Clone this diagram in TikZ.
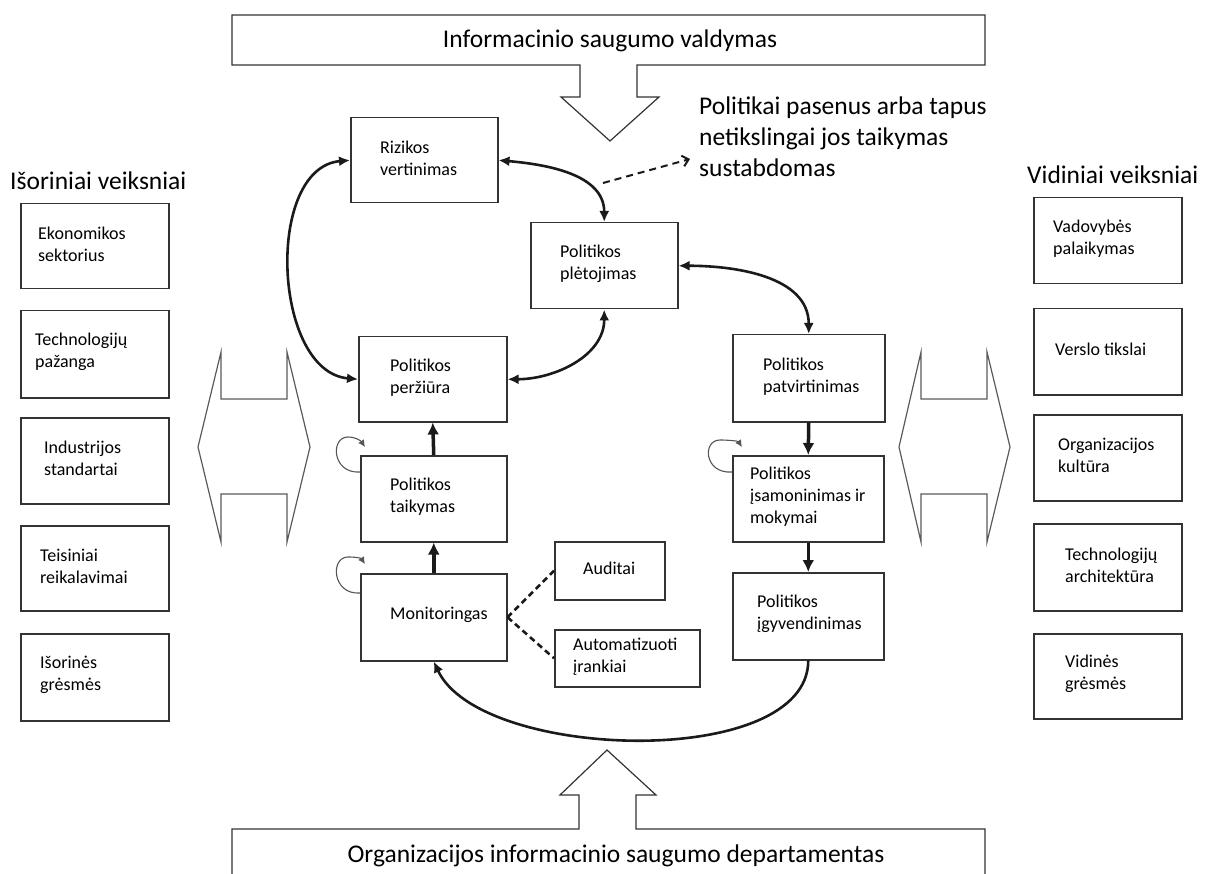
\documentclass[tikz,border=0pt]{standalone}
\usepackage{fontspec}
\setmainfont{Carlito}
\usetikzlibrary{arrows.meta,calc}
\definecolor{boxline}{HTML}{333333}
\definecolor{ink}{HTML}{1A1A1A}
\definecolor{outline}{HTML}{5A5A5A}
\definecolor{loopgray}{HTML}{555555}
% box with its label: name, x, y (north west), width, height, left pad, text
\newcommand\ubox[7]{%
  \node[box, minimum width=#4pt, minimum height=#5pt, anchor=north west] (#1) at (#2,#3) {};
  \node[boxtext, anchor=west] (#1-t) at ($(#1.west)+(#6,-2)$) {#7};
}
\begin{document}
\begin{tikzpicture}[x=1pt,y=-1pt,
  box/.style={draw=boxline, line width=1.5pt, fill=white, inner sep=0pt},
  boxtext/.style={inner sep=0pt, align=left, font=\fontsize{18}{22}\selectfont},
  bigtext/.style={inner sep=0pt, align=left, font=\fontsize{25.5}{31}\selectfont},
  flow/.style={draw=ink, line width=2.6pt, {Latex[length=11pt,width=10pt]}-{Latex[length=11pt,width=10pt]}},
  upflow/.style={draw=ink, line width=3.5pt, -{Latex[length=12pt,width=12pt]}},
  backflow/.style={draw=ink, line width=2.6pt, -{Latex[length=11pt,width=10pt]}},
  selfloop/.style={draw=loopgray, line width=1.1pt, -{Latex[length=7pt,width=7pt]}},
  link/.style={draw=ink, line width=2.6pt, dash pattern=on 6pt off 4pt},
  hollow/.style={draw=outline, line width=1.2pt, line join=miter},
]
\useasboundingbox (0,0) rectangle (1207,874);
\clip (0,0) rectangle (1207,874);

% management banner with downward arrow
\draw[hollow, draw=boxline] (232,15) -- (985,15) -- (985,65) -- (637,65) -- (637,97) -- (659,97)
  -- (610,141) -- (561,97) -- (580,97) -- (580,65) -- (232,65) -- cycle;
\node[bigtext, anchor=center] (mgmt) at (610,41) {Informacinio saugumo valdymas};

% department banner with upward arrow
\draw[hollow, draw=boxline] (232,880) -- (232,829) -- (579,829) -- (579,795) -- (560,795)
  -- (607,750) -- (656,795) -- (636,795) -- (636,829) -- (985,829) -- (985,880);
\node[bigtext, anchor=center] (dept) at (616,856) {Organizacijos informacinio saugumo departamentas};

% two-way exchange arrows
\draw[hollow] (221,352) -- (221,399) -- (287,399) -- (287,352) -- (310,447) -- (287,542)
  -- (287,494) -- (221,494) -- (221,542) -- (198,447) -- cycle;
\draw[hollow] (921,352) -- (921,399) -- (987,399) -- (987,352) -- (1010,447) -- (987,542)
  -- (987,494) -- (921,494) -- (921,542) -- (899,447) -- cycle;

% external factors
\node[bigtext, anchor=base west] (ext) at (10,190) {Išoriniai veiksniai};
\ubox{ek}{20}{203}{148}{85}{18}{Ekonomikos\\sektorius}
\ubox{tp}{20}{310}{148}{87}{15}{Technologijų\\pažanga}
\ubox{is}{20}{417}{148}{86}{24}{Industrijos\\standartai}
\ubox{tr}{20}{525}{148}{85}{20}{Teisiniai\\reikalavimai}
\ubox{ig}{20}{633}{148}{87}{20}{Išorinės\\grėsmės}

% internal factors
\node[bigtext, anchor=base west] (int) at (1027,184) {Vidiniai veiksniai};
\ubox{vp}{1033}{197}{148}{86}{20}{Vadovybės\\palaikymas}
\ubox{vt}{1033}{308}{148}{86}{22}{Verslo tikslai}
\ubox{ok}{1033}{414}{148}{86}{25}{Organizacijos\\kultūra}
\ubox{ta}{1033}{523}{148}{87}{32}{Technologijų\\architektūra}
\ubox{vg}{1033}{633}{148}{85}{32}{Vidinės\\grėsmės}

% policy life cycle
\ubox{riz}{350}{117}{147}{85}{30}{Rizikos\\vertinimas}
\ubox{ple}{530}{222}{147}{86}{30}{Politikos\\plėtojimas}
\ubox{per}{358}{336}{148}{85}{32}{Politikos\\peržiūra}
\ubox{pat}{732}{334}{152}{87}{31}{Politikos\\patvirtinimas}
\ubox{tai}{360}{455}{146}{86}{30}{Politikos\\taikymas}
\ubox{isa}{732}{455}{151}{86}{18}{Politikos\\įsamoninimas ir\\mokymai}
\ubox{mon}{360}{573}{146}{87}{30}{Monitoringas}
\ubox{aud}{554}{541}{110}{58}{29}{Auditai}
\ubox{aut}{554}{629}{145}{57}{19}{Automatizuoti\\įrankiai}
\ubox{ign}{732}{572}{151}{87}{25}{Politikos\\įgyvendinimas}

% two-way links of the cycle
\draw[flow] (riz.east) to[out=-5, in=90] (ple.north);
\draw[flow] (ple.east) to[out=0, in=90] (pat.north);
\draw[flow] (ple.south) to[out=-90, in=0] (per.east);
\draw[flow] (riz.west) to[out=185, in=175] (per.west);

% one-way steps
\draw[upflow] (tai.north) -- (per.south);
\draw[upflow] (mon.north) -- (tai.south);
\draw[upflow] (pat.south) -- (isa.north);
\draw[upflow] (isa.south) -- (ign.north);
\draw[backflow] (ign.south) to[out=-90, in=-65, looseness=0.75] (mon.south);

% repeating activities
\draw[selfloop] ($(tai.north west)+(0,17)$) .. controls +(-28,2) and +(-18,0) .. ($(tai.north west)+(-12,-18)$)
  .. controls +(8,0) and +(-4,-6) .. ($(tai.north west)+(5,-8)$);
\draw[selfloop] ($(mon.north west)+(0,20)$) .. controls +(-28,2) and +(-18,0) .. ($(mon.north west)+(-12,-16)$)
  .. controls +(8,0) and +(-4,-6) .. ($(mon.north west)+(5,-9)$);
\draw[selfloop] ($(isa.north west)+(0,17)$) .. controls +(-28,2) and +(-18,0) .. ($(isa.north west)+(-12,-15)$)
  .. controls +(8,0) and +(-4,-6) .. ($(isa.north west)+(10,-8)$);

% monitoring tools
\draw[link] (mon.east) -- (aud.west);
\draw[link] (mon.east) -- (aut.west);

% suspension note
\node[bigtext, anchor=north west] (note) at (699,97) {Politikai pasenus arba tapus\\netikslingai jos taikymas\\sustabdomas};
\coordinate (stopfrom) at (603,183);
\coordinate (stopto) at (690,159);
\draw[draw=ink, line width=2pt, dash pattern=on 7pt off 5pt, -{Straight Barb[length=6pt,width=11pt]}] (stopfrom) -- (stopto);
\end{tikzpicture}
\end{document}
